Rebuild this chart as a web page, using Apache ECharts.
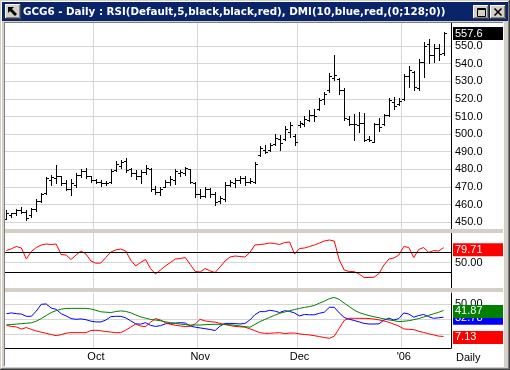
<!DOCTYPE html>
<html><head><meta charset="utf-8">
<script src="https://cdn.jsdelivr.net/npm/echarts@6/dist/echarts.min.js"></script>
<style>html,body{margin:0;padding:0;background:#d4d0c8;}#c{width:510px;height:370px;}</style>
</head><body><div id="c"></div>
<script>
// ---------- data ----------
const dates = [
 "2005-09-07","2005-09-08","2005-09-09","2005-09-12","2005-09-13","2005-09-14","2005-09-15","2005-09-16","2005-09-19","2005-09-20",
 "2005-09-21","2005-09-22","2005-09-23","2005-09-26","2005-09-27","2005-09-28","2005-09-29","2005-09-30",
 "2005-10-03","2005-10-04","2005-10-05","2005-10-06","2005-10-07","2005-10-10","2005-10-11","2005-10-12","2005-10-13","2005-10-14",
 "2005-10-17","2005-10-18","2005-10-19","2005-10-20","2005-10-21","2005-10-24","2005-10-25","2005-10-26","2005-10-27","2005-10-28","2005-10-31",
 "2005-11-01","2005-11-02","2005-11-03","2005-11-04","2005-11-07","2005-11-08","2005-11-09","2005-11-10","2005-11-11","2005-11-14",
 "2005-11-15","2005-11-16","2005-11-17","2005-11-18","2005-11-21","2005-11-22","2005-11-23","2005-11-28","2005-11-29","2005-11-30",
 "2005-12-01","2005-12-02","2005-12-05","2005-12-06","2005-12-07","2005-12-08","2005-12-09","2005-12-12","2005-12-13","2005-12-14",
 "2005-12-15","2005-12-16","2005-12-19","2005-12-20","2005-12-21","2005-12-22","2005-12-23","2005-12-27","2005-12-28","2005-12-29","2005-12-30",
 "2006-01-03","2006-01-04","2006-01-05","2006-01-06","2006-01-09","2006-01-10","2006-01-11","2006-01-12","2006-01-13"
];
const opens = [452,454,455,457,456,454,457.5,462,466.5,474, 475,476,472,469,471,477,479,476,474,473, 472,473,479.5,482,485,480,478,476,478.5,480,
 469,467,470,473,474,478,478,480,472,466, 465,469,466,462,463,471,472,474,475,473, 473,488,491,491,494.5,497,497,501,499,505,
 506,508,511,514,520,525,532,531,525,508.5, 506,505,506.5,497,495.5,506,506,511,518,517, 520,533,535,526,541,551,545,549,546];
const highs = [457,455.5,457.5,458.5,457,458,463,466.5,475.5,477, 482.5,476.5,474,474.5,478,480,481,476.5,474.5,474, 473.5,480,484.5,485.5,486.5,481,479.5,479.5,482.5,480.5,
 470.5,470,474,476,480,479.5,481.5,480,473,469, 470,469.5,467,465,473,474,475,476,476,475, 484,493.5,494,495,500,499.5,504.5,507,500,507.5,
 510,513.5,514,520.5,524,534.5,545,532,526,510.5, 511.5,512.5,512,499,506.5,509,511.5,520.5,521,520.5, 534,538.5,536,542.5,552,554,551,551,558];
const lows = [452,453,454,455,451.5,453,456.5,461.5,466,471, 472,471,468,465.5,470,475.5,475,473,472,470.5, 471,472.5,479,481,478.5,476.5,474.5,472,477.5,467.5,
 466,465.5,470,471,471.5,476.5,477,472,464.5,463.5, 464.5,464.5,460,461,462,470.5,470,472.5,471,472, 472.5,487.5,489,490.5,494,491,496.5,498.5,494,504,
 504.5,507.5,507.5,513.5,517,524,530.5,523,508,505, 496.5,501,496,496,495.5,502,505,510.5,514.5,516.5, 519.5,527,525,525,532.5,540.5,541,542,545];
const closes = [455,455,457,456,452.5,457.5,462,466,475,475.5, 476.5,472.5,469,472,477,479,476,474,473,472, 472.5,479,483,484,479.5,478,476,478.5,481,469,
 467,469,473,474.5,479,478.5,480.5,473,466,465, 469,466,461.5,463.5,471,473,474,475,473,473.5, 483,492,490,494,498,495,503,505,495.5,506.5,
 508.5,511,510,519.5,522.5,533,533.5,525,509,506, 506,506.5,496.5,496.5,505.5,504,511,519.5,516,519, 533,536.5,526.5,541,550,545,549,545.5,557.6];
const rsi = [74,77.5,82,79,57,72,80,85,87,86, 87,66,65,56,65,73,67,53,48.5,49, 60,71,75,77,73,55,43,50,56,38,
 27,35,43,50,57,58,60,46,32,31, 38,33,30,41,53,61,63,62,61,70, 85,86,87,89,88,86,90,91,67,78,
 79,82,85,89,93,95,93,55,35,32, 31.7,27,20,20,20.5,28,45,57,59,65, 82,80,60,76,80,70,74,73,79.71];
const diPlus = [37.5,38.5,37.5,37,34,34,41,50,50.5,45, 43.3,37.5,34.5,31,30,30.5,29.5,27.5,26.5,26.5,
 29,33.5,34,34,32,28,24,23.5,25.5,22, 20.5,21.5,24,24.6,25,25.5,25,21,19.5,18.5,
 17.5,16.5,15,21,24.5,24.6,24.3,23.8,24.4,29, 36,40.2,40.2,42,41,39,41.5,40.5,38.5,34.5,
 36.5,36,36,38,39.5,46,46,38.5,32.5,30, 28.5,26.5,24.5,23.7,23.7,24,29,31.5,29,31,
 38.5,37,32.8,35,36.5,33.5,31.3,32,32.78];
const diMinus = [22,20.5,19.8,17,19,16.5,14.5,12.8,11.3,9.7, 8.2,9.5,11.5,12.2,12.2,12.2,12.2,15,15.4,14.7,
 13.7,13,12.2,12.2,15.5,19.5,23.8,21,20.2,26, 31,29,25.5,23.3,22,21.1,20.4,20.7,24,30,
 27.8,26.9,26.2,24.6,22.9,21.7,20.5,20,19.5,17.3, 14.8,12.2,11.3,11.3,11.8,12.2,10.9,11.5,11.7,10.6,
 9.8,9.1,8.2,6.9,5.7,4.6,7.5,18,28.5,31.3, 31.3,31.3,31.3,31,30.3,29.2,27.7,26,23.5,21,
 17.2,16.6,16.2,14,12.5,10.7,9.2,7.6,7.13];
const adx = [22.5,23,23.5,24.2,24.7,25.3,27.5,31,35,39, 41.5,43.5,44.5,44.6,44.6,44.6,44.6,43.8,42,40,
 39.5,39,40.3,41.2,40.5,38.7,35.8,33.3,31.5,29.9, 29,28.1,26.7,25.4,24.5,23.6,23,22.4,22.4,22.4,
 22.8,23.2,23.3,23.3,23.3,22.8,22,21.1,20.2,19.4, 23,26.9,29.7,32.6,35.3,38,39.7,41.4,43,44.6,
 45.8,46.9,48.5,51.5,54.2,57.5,59.2,56.5,51.5,47, 42.3,39,36.8,34.9,33.4,32,30.6,29.2,28.2,27,
 27.4,28.1,29.5,31,33,35.3,37.3,39.3,41.87];
const priceTicks = [450,460,470,480,490,500,510,520,530,540,550];
const rsiLevels = [70,30];
const rsiMid = [50];
const dmiTicks = [10,30,50];
const dmiLabelTicks = [50];
const monthLabels = ["Oct","Nov","Dec","'06"];
const title = "GCG6 - Daily : RSI(Default,5,black,black,red), DMI(10,blue,red,(0;128;0))";

// ---------- derived ----------
const monthStart = [];
for (let i = 1; i < dates.length; i++) if (dates[i].slice(5,7) !== dates[i-1].slice(5,7)) monthStart.push(i);
const ohlc = dates.map((d,i)=>[i, opens[i], closes[i], lows[i], highs[i]]);
const last = a => a[a.length-1];

const FONT = '"Liberation Sans", Arial, sans-serif';
const GRIDC = '#d6d6d6';
const GRAY = '#d4d0c8';

function xAx(gi, labels){
  return {type:'category', gridIndex:gi, data:dates, max:dates.length, boundaryGap:true,
    axisLine:{show:gi===2, onZero:false, lineStyle:{color:'#000',width:1}},
    axisTick:{show:false},
    axisLabel: labels ? {interval:(i)=>monthStart.indexOf(i)>=0,
        formatter:(v,i)=>monthLabels[monthStart.indexOf(i)], color:'#000', fontSize:11, fontFamily:FONT, margin:3}
      : {show:false},
    splitLine:{show:true, interval:(i)=>monthStart.indexOf(i)>=0, lineStyle:{color:GRIDC,width:1}}
  };
}
function yAx(gi, min, max, tickVals, labelVals, fmt){
  return {type:'value', gridIndex:gi, position:'right', min:min, max:max,
    axisLine:{show:true, lineStyle:{color:'#000',width:1}},
    axisTick:{show:false, customValues:tickVals},
    axisLabel:{customValues:labelVals, formatter:fmt, color:'#000', fontSize:11, fontFamily:FONT, margin:4},
    splitLine:{show:true, lineStyle:{color:GRIDC,width:1}}
  };
}
function tag(val, txt, bg, off){
  return {yAxis:val, lineStyle:{width:1, color:'rgba(0,0,0,0)'},
    label:{show:true, position:'end', distance:2, formatter:txt, color:'#fff', backgroundColor:bg, opacity:1,
      fontSize:11, fontFamily:FONT, width:48, height:13, lineHeight:13, padding:[0,0,0,2],
      align:'left', verticalAlign:'middle', offset:[0, off||0]}};
}
function button(x,y,w,h){
  return [
    {type:'rect', shape:{x:x,y:y,width:w,height:h}, style:{fill:GRAY}, z:104},
    {type:'polyline', shape:{points:[[x+0.5,y+h],[x+0.5,y+0.5],[x+w,y+0.5]]}, style:{stroke:'#fff',fill:null,lineWidth:1}, z:105},
    {type:'polyline', shape:{points:[[x+w-0.5,y],[x+w-0.5,y+h-0.5],[x,y+h-0.5]]}, style:{stroke:'#404040',fill:null,lineWidth:1}, z:105},
    {type:'polyline', shape:{points:[[x+w-1.5,y+1],[x+w-1.5,y+h-1.5],[x+1,y+h-1.5]]}, style:{stroke:'#808080',fill:null,lineWidth:1}, z:105}
  ];
}

const graphics = [
  {type:'rect', shape:{x:0,y:0,width:510,height:23}, style:{fill:GRAY}, z:100},
  {type:'rect', shape:{x:0,y:0,width:5,height:370}, style:{fill:GRAY}, z:100},
  {type:'rect', shape:{x:503,y:0,width:7,height:370}, style:{fill:GRAY}, z:100},
  {type:'rect', shape:{x:0,y:366,width:510,height:4}, style:{fill:GRAY}, z:100},
  {type:'rect', shape:{x:5,y:229,width:498,height:4}, style:{fill:GRAY}, z:100},
  {type:'rect', shape:{x:5,y:288,width:498,height:4}, style:{fill:GRAY}, z:100},
  {type:'line', shape:{x1:4.5,y1:22,x2:4.5,y2:367}, style:{stroke:'#808080',lineWidth:1}, z:101},
  {type:'line', shape:{x1:4,y1:22.5,x2:504,y2:22.5}, style:{stroke:'#808080',lineWidth:1}, z:101},
  {type:'line', shape:{x1:503.5,y1:22,x2:503.5,y2:367}, style:{stroke:'#ffffff',lineWidth:1}, z:101},
  {type:'line', shape:{x1:4,y1:366.5,x2:504,y2:366.5}, style:{stroke:'#ffffff',lineWidth:1}, z:101},
  {type:'line', shape:{x1:509.5,y1:0,x2:509.5,y2:370}, style:{stroke:'#404040',lineWidth:1}, z:101},
  {type:'line', shape:{x1:0,y1:369.5,x2:510,y2:369.5}, style:{stroke:'#404040',lineWidth:1}, z:101},
  {type:'line', shape:{x1:508.5,y1:1,x2:508.5,y2:369}, style:{stroke:'#808080',lineWidth:1}, z:101},
  {type:'line', shape:{x1:1,y1:368.5,x2:509,y2:368.5}, style:{stroke:'#808080',lineWidth:1}, z:101},
  {type:'line', shape:{x1:1.5,y1:1,x2:1.5,y2:368}, style:{stroke:'#ffffff',lineWidth:1}, z:101},
  {type:'line', shape:{x1:1,y1:1.5,x2:508,y2:1.5}, style:{stroke:'#ffffff',lineWidth:1}, z:101},
  {type:'rect', shape:{x:2,y:2,width:506,height:19}, style:{fill:'#0a246a'}, z:102},
  {type:'text', x:23, y:12, style:{text:title, fill:'#ffffff', font:'bold 10.3px "DejaVu Sans", sans-serif', textVerticalAlign:'middle', verticalAlign:'middle'}, z:103},
  ...button(5,4,16,15),
  {type:'polygon', shape:{points:[[8,7],[14,7],[12,9],[17,14],[15,16],[10,11],[8,13]]}, style:{fill:'#000'}, z:106},
  ...button(473,5,16,14),
  {type:'rect', shape:{x:477.5,y:8.5,width:8,height:8}, style:{stroke:'#000',fill:null,lineWidth:1}, z:106},
  {type:'line', shape:{x1:477,y1:9.5,x2:486,y2:9.5}, style:{stroke:'#000',lineWidth:1}, z:106},
  ...button(490,5,16,14),
  {type:'line', shape:{x1:494.5,y1:8.5,x2:501.5,y2:15.5}, style:{stroke:'#000',lineWidth:1.6}, z:106},
  {type:'line', shape:{x1:501.5,y1:8.5,x2:494.5,y2:15.5}, style:{stroke:'#000',lineWidth:1.6}, z:106},
  {type:'text', x:456, y:357.5, style:{text:'Daily', fill:'#000', font:'11px '+FONT, textVerticalAlign:'middle', verticalAlign:'middle'}, z:103}
];

const chart = echarts.init(document.getElementById('c'), null, {renderer:'canvas'});
chart.setOption({
  animation:false,
  backgroundColor:'#ffffff',
  grid:[
    {left:4, right:59, top:23, height:206},
    {left:4, right:59, top:233, height:55},
    {left:4, right:59, top:293, height:55}
  ],
  xAxis:[xAx(0,false), xAx(1,false), xAx(2,true)],
  yAxis:[
    yAx(0, 446.14, 563.05, priceTicks, priceTicks, v=>v.toFixed(1)),
    yAx(1, -1, 109, rsiMid, rsiMid, v=>v.toFixed(2)),
    yAx(2, -8.27, 65.07, dmiTicks, dmiLabelTicks, v=>v.toFixed(2))
  ],
  graphic:{elements:graphics},
  series:[
    {type:'custom', xAxisIndex:0, yAxisIndex:0, data:ohlc, encode:{x:0, y:[1,2,3,4]},
      renderItem:function(params, api){
        const i = api.value(0);
        const x = Math.round(api.coord([i, api.value(1)])[0]) + 0.5;
        const yo = Math.round(api.coord([i, api.value(1)])[1]) + 0.5;
        const yc = Math.round(api.coord([i, api.value(2)])[1]) + 0.5;
        const yl = Math.round(api.coord([i, api.value(3)])[1]) + 1;
        const yh = Math.round(api.coord([i, api.value(4)])[1]);
        const st = {stroke:'#000', lineWidth:1};
        return {type:'group', children:[
          {type:'line', shape:{x1:x,y1:yh,x2:x,y2:yl}, style:st},
          {type:'line', shape:{x1:x-2.5,y1:yo,x2:x,y2:yo}, style:st},
          {type:'line', shape:{x1:x,y1:yc,x2:x+2.5,y2:yc}, style:st}
        ]};
      },
      markLine:{silent:true, symbol:'none', animation:false, z:10, data:[tag(last(closes), last(closes).toFixed(1), '#000000', 1)]}
    },
    {type:'line', xAxisIndex:1, yAxisIndex:1, data:rsi, symbol:'none', lineStyle:{color:'#ff0000', width:1}, itemStyle:{color:'#ff0000'},
      markLine:{silent:true, symbol:'none', animation:false, data:[
        ...rsiLevels.map(v=>({yAxis:v, lineStyle:{color:'#000',width:1,type:'solid'}, label:{show:false}})),
        tag(last(rsi), last(rsi).toFixed(2), '#ff0000', 2)
      ]}
    },
    {type:'line', xAxisIndex:2, yAxisIndex:2, data:diPlus, symbol:'none', lineStyle:{color:'#0000ff', width:1}, itemStyle:{color:'#0000ff'},
      markLine:{silent:true, symbol:'none', animation:false, data:[tag(last(diPlus), last(diPlus).toFixed(2), '#0000ff', 1)]}},
    {type:'line', xAxisIndex:2, yAxisIndex:2, data:diMinus, symbol:'none', lineStyle:{color:'#ff0000', width:1}, itemStyle:{color:'#ff0000'},
      markLine:{silent:true, symbol:'none', animation:false, data:[tag(last(diMinus), last(diMinus).toFixed(2), '#ff0000', 1)]}},
    {type:'line', xAxisIndex:2, yAxisIndex:2, data:adx, symbol:'none', lineStyle:{color:'#008000', width:1}, itemStyle:{color:'#008000'},
      markLine:{silent:true, symbol:'none', animation:false, data:[tag(last(adx), last(adx).toFixed(2), '#008000', 1)]}}
  ]
});
</script></body></html>
